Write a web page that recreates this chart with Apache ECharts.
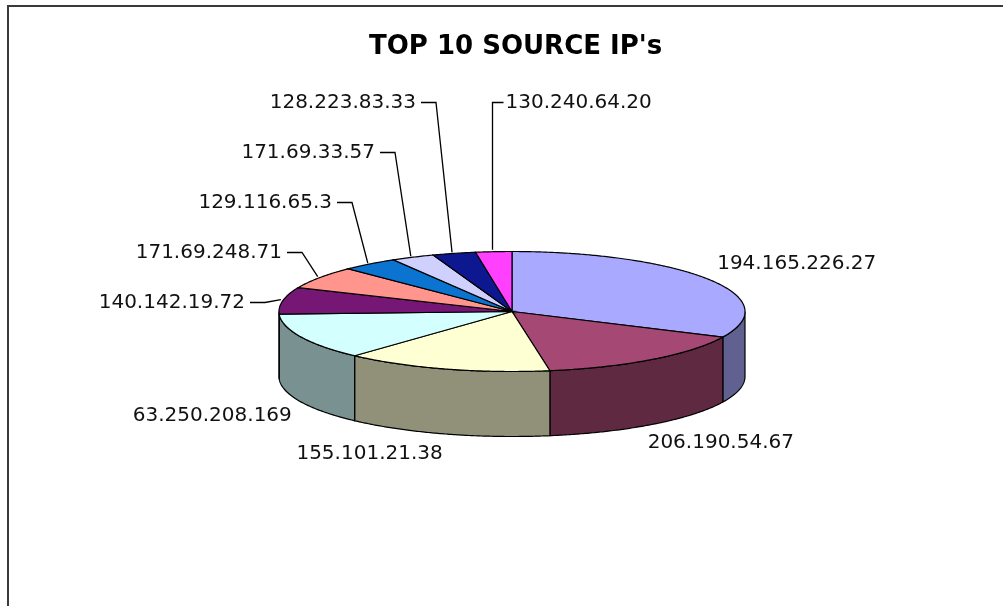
<!DOCTYPE html>
<html>
<head>
<meta charset="utf-8">
<script src="https://cdn.jsdelivr.net/npm/echarts@6/dist/echarts.min.js"></script>
<style>
  html, body { margin: 0; padding: 0; background: #fff; }
  #chart { width: 1003px; height: 606px; }
</style>
</head>
<body>
<div id="chart"></div>
<script>
// Top 10 source addresses and their share of traffic
const sourceIPs = [
  '194.165.226.27', '206.190.54.67', '155.101.21.38', '63.250.208.169',
  '140.142.19.72', '171.69.248.71', '129.116.65.3', '171.69.33.57',
  '128.223.83.33', '130.240.64.20'
];
const packetCounts = [320, 154, 144, 125, 72, 61, 39, 30, 30, 25];
const sliceColors = [
  '#A9A9FF', '#A64874', '#FFFFD4', '#D4FFFF', '#761776',
  '#FF958C', '#0A74D0', '#D0D0FF', '#0D1890', '#FF40FF'
];
const chartTitle = "TOP 10 SOURCE IP's";

// Geometry of the tilted pie (centre, radii of the top ellipse, wall height)
const PIE = { cx: 512, cy: 311.5, rx: 233, ry: 60, depth: 65 };
const WALL_SHADE = 0.57;
const LABEL_FONT = '20px "DejaVu Sans"';
const CALLOUT_STEP = 50;   // vertical spacing of stacked callouts
const CALLOUT_TOP = 100;   // highest row a callout may use

const TAU = Math.PI * 2;
const total = packetCounts.reduce((a, b) => a + b, 0);
const startAngle = [];
(function () {
  let acc = 0;
  packetCounts.forEach(v => { startAngle.push(acc / total * TAU); acc += v; });
})();

// angle is measured clockwise from 12 o'clock
function rim(theta, dy) {
  return [PIE.cx + PIE.rx * Math.sin(theta), PIE.cy - PIE.ry * Math.cos(theta) + (dy || 0)];
}
function arcPoints(a0, a1, dy) {
  const n = Math.max(2, Math.ceil((a1 - a0) / (Math.PI / 360)));
  const pts = [];
  for (let k = 0; k <= n; k++) pts.push(rim(a0 + (a1 - a0) * k / n, dy));
  return pts;
}
function shade(hex, k) {
  const n = parseInt(hex.slice(1), 16);
  const r = Math.round(((n >> 16) & 255) * k);
  const g = Math.round(((n >> 8) & 255) * k);
  const b = Math.round((n & 255) * k);
  return 'rgb(' + r + ',' + g + ',' + b + ')';
}

// Data labels: large slices sit just outside the rim, small ones are
// stacked into callouts with leader lines.
const labels = (function () {
  const out = [];
  let row = 0, baseY = null, lastY = null;
  packetCounts.forEach((v, i) => {
    const mid = startAngle[i] + v / total * Math.PI;
    const s = Math.sin(mid), c = Math.cos(mid);
    const front = c < 0;
    const anchor = rim(mid, front ? PIE.depth : 0);
    if (v / total >= 0.1) {
      out.push({
        x: PIE.cx + (PIE.rx + (front && s > 0 ? -8 : 10)) * s,
        y: PIE.cy - (PIE.ry + 10) * c + (front ? PIE.depth : 0),
        align: s >= 0 ? 'left' : 'right',
        verticalAlign: front ? 'top' : 'bottom',
        line: null
      });
      return;
    }
    if (baseY === null) baseY = Math.round(anchor[1]) + 1.5;
    let y = baseY - CALLOUT_STEP * row;
    if (y >= CALLOUT_TOP) {
      const right = Math.round(anchor[0]) - 38;
      out.push({
        x: right, y: y, align: 'right', verticalAlign: 'middle',
        line: [[right + 5, y], [right + 20, y], [anchor[0] - 2, anchor[1] - 1]]
      });
      lastY = y;
      row++;
    } else {
      y = lastY;
      const lx = Math.round(anchor[0]) - 1.5;
      out.push({
        x: lx + 13, y: y, align: 'left', verticalAlign: 'middle',
        line: [[lx, anchor[1] - 2], [lx, y], [lx + 11, y]]
      });
    }
  });
  return out;
})();

function renderSlice(params, api) {
  const i = params.dataIndex;
  const color = sliceColors[i];
  const a0 = startAngle[i];
  const a1 = a0 + api.value(0) / total * TAU;
  const children = [];
  // visible part of the outer wall (front half of the disc)
  const w0 = Math.max(a0, Math.PI / 2), w1 = Math.min(a1, Math.PI * 1.5);
  if (w1 > w0) {
    const upper = arcPoints(w0, w1, 0);
    const lower = arcPoints(w0, w1, PIE.depth).reverse();
    children.push({
      type: 'polygon',
      shape: { points: upper.concat(lower) },
      style: { fill: shade(color, WALL_SHADE), stroke: '#000', lineWidth: 1.2 }
    });
  }
  // top face
  children.push({
    type: 'polygon',
    shape: { points: [[PIE.cx, PIE.cy]].concat(arcPoints(a0, a1, 0)) },
    style: { fill: color, stroke: '#000', lineWidth: 1.2 }
  });
  const lab = labels[i];
  if (lab.line) {
    children.push({
      type: 'polyline',
      shape: { points: lab.line },
      style: { stroke: '#000', lineWidth: 1.3, fill: null }
    });
  }
  children.push({
    type: 'text',
    style: {
      text: sourceIPs[i], x: lab.x, y: lab.y,
      align: lab.align, verticalAlign: lab.verticalAlign,
      font: LABEL_FONT, fill: '#111'
    }
  });
  return { type: 'group', children: children };
}

const chart = echarts.init(document.getElementById('chart'));
chart.setOption({
  animation: false,
  backgroundColor: '#fff',
  title: {
    text: chartTitle,
    left: 364,
    top: 29,
    textStyle: { fontFamily: 'DejaVu Sans', fontWeight: 'bold', fontSize: 26, color: '#000' }
  },
  graphic: [{
    type: 'polyline',
    shape: { points: [[8, 700], [8, 6], [1100, 6]] },
    style: { fill: null, stroke: '#3a3a3a', lineWidth: 2 },
    silent: true
  }],
  series: [{
    type: 'custom',
    coordinateSystem: 'none',
    renderItem: renderSlice,
    data: packetCounts.map((v, i) => ({ name: sourceIPs[i], value: [v] }))
  }]
});
</script>
</body>
</html>
